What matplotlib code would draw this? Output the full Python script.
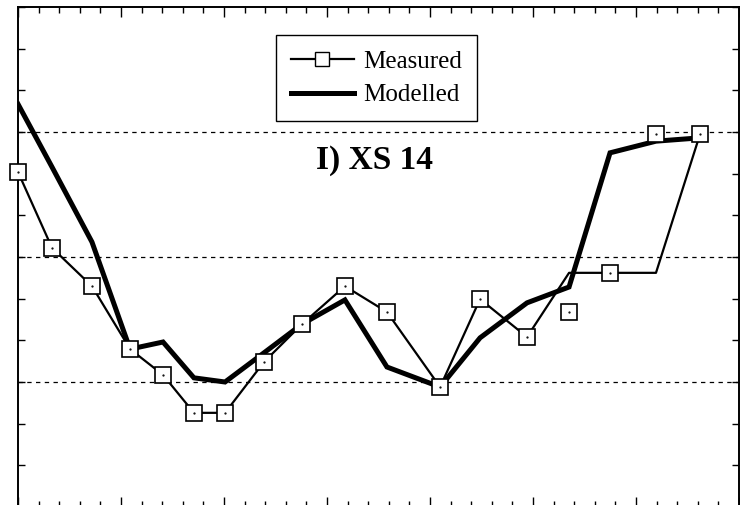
import numpy as np
from matplotlib import pyplot as plt
from matplotlib.ticker import MultipleLocator

plt.rcParams['font.family'] = ['Liberation Serif', 'DejaVu Serif']

# Estaciones a lo largo de la seccion (compartidas por las dos series)
station = [0.0, 1.65, 3.59, 5.44, 7.04, 8.54, 10.05, 11.94, 13.79, 15.87,
           17.91, 20.49, 22.43, 24.71, 26.75, 28.74, 30.97, 33.11]

# Linea medida y marcadores medidos (difieren en dos puntos)
measured_line = [8.04, 6.22, 5.30, 3.79, 3.17, 2.26, 2.26, 3.48, 4.39, 5.30,
                 4.68, 2.88, 4.99, 4.08, 5.62, 5.62, 5.62, 8.95]
measured_pts = [8.04, 6.22, 5.30, 3.79, 3.17, 2.26, 2.26, 3.48, 4.39, 5.30,
                4.68, 2.88, 4.99, 4.08, 4.68, 5.62, 8.95, 8.95]

modelled = [9.67, 8.16, 6.36, 3.79, 3.96, 3.10, 3.00, 3.70, 4.39, 4.97,
            3.36, 2.88, 4.06, 4.90, 5.28, 8.50, 8.78, 8.86]

grid_levels = [3, 6, 9]
title_text = "I) XS 14"

fig = plt.figure(figsize=(7.4, 5.05), dpi=100)
ax = fig.add_axes([18/740, -2/505, 721/740, 500/505])

for g in grid_levels:
    ax.axhline(g, color='black', lw=0.9, ls=(0, (3.5, 3.5)), zorder=1)

# Serie medida: linea + marcadores cuadrados
ax.plot(station, measured_line, color='black', lw=1.6, zorder=3)
ax.plot(station, measured_pts, ls='none', marker='s', ms=11.5, mfc='white',
        mec='black', mew=1.2, zorder=5, clip_on=False)
ax.plot(station, measured_pts, ls='none', marker='.', ms=1.2, color='black',
        zorder=6, clip_on=False)

# Serie modelada
ax.plot(station, modelled, color='black', lw=3.6, zorder=4,
        solid_joinstyle='miter')

# Entradas de la leyenda
h1, = ax.plot([], [], color='black', lw=1.6, marker='s', ms=10, mfc='white',
              mec='black', mew=1.0)
h2, = ax.plot([], [], color='black', lw=3.6)
leg = ax.legend([h1, h2], ['Measured', 'Modelled'], loc='upper left',
                bbox_to_anchor=(0.358, 0.944), borderaxespad=0, fontsize=18,
                frameon=True, fancybox=False, framealpha=1, edgecolor='black',
                handlelength=2.5, handletextpad=0.4, labelspacing=0.45,
                borderpad=0.6, numpoints=1)
leg.get_frame().set_linewidth(1.0)

ax.text(0.495, 0.692, title_text, transform=ax.transAxes, ha='center',
        va='center', fontsize=24, fontweight='bold')

ax.set_xlim(0, 35)
ax.set_ylim(0, 12)
ax.xaxis.set_major_locator(MultipleLocator(5))
ax.xaxis.set_minor_locator(MultipleLocator(1))
ax.yaxis.set_major_locator(MultipleLocator(1))
ax.tick_params(axis='x', which='major', direction='in', length=7.5, width=1,
               top=True, bottom=True, labelbottom=False)
ax.tick_params(axis='x', which='minor', direction='in', length=4.5, width=1,
               top=True, bottom=True)
ax.tick_params(axis='y', which='major', direction='in', length=5, width=1,
               left=True, right=True, labelleft=False)
for s in ax.spines.values():
    s.set_linewidth(1.4)

plt.savefig("out.png", dpi=100)
